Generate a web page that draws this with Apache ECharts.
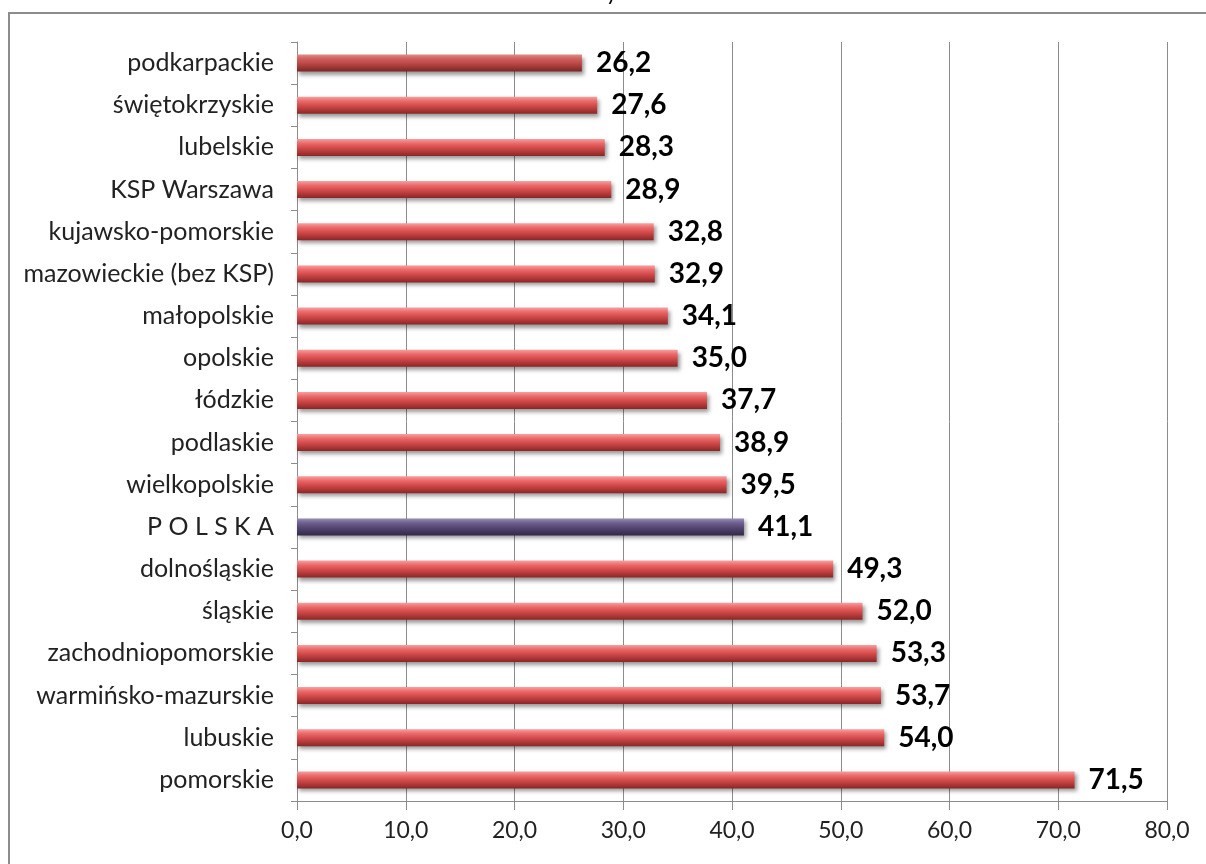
<!DOCTYPE html>
<html>
<head>
<meta charset="utf-8">
<script src="https://cdn.jsdelivr.net/npm/echarts@6/dist/echarts.min.js"></script>
<style>
html,body{margin:0;padding:0;background:#fff;}
#chart{width:1206px;height:864px;}
</style>
</head>
<body>
<div id="chart"></div>
<script>
// Data (top to bottom as shown)
const categories = ["podkarpackie","świętokrzyskie","lubelskie","KSP Warszawa","kujawsko-pomorskie","mazowieckie (bez KSP)","małopolskie","opolskie","łódzkie","podlaskie","wielkopolskie","P O L S K A","dolnośląskie","śląskie","zachodniopomorskie","warmińsko-mazurskie","lubuskie","pomorskie"];
const values = [26.2,27.6,28.3,28.9,32.8,32.9,34.1,35.0,37.7,38.9,39.5,41.1,49.3,52.0,53.3,53.7,54.0,71.5];
const highlightCategory = "P O L S K A";
const xTicks = [0,10,20,30,40,50,60,70,80];

const redGrad = new echarts.graphic.LinearGradient(0,0,0,1,[
  {offset:0,color:'#f7a0a0'},{offset:0.25,color:'#ec6a6a'},{offset:0.55,color:'#d04848'},{offset:1,color:'#8a2626'}]);
const darkRedGrad = new echarts.graphic.LinearGradient(0,0,0,1,[
  {offset:0,color:'#e08a88'},{offset:0.25,color:'#cf5f5d'},{offset:0.55,color:'#b84644'},{offset:1,color:'#7a2524'}]);
const purpleGrad = new echarts.graphic.LinearGradient(0,0,0,1,[
  {offset:0,color:'#9a8db5'},{offset:0.25,color:'#6f6192'},{offset:0.55,color:'#54466f'},{offset:1,color:'#33284a'}]);

const seriesData = values.map((v,i)=>({
  value:v,
  itemStyle:{color: categories[i]===highlightCategory ? purpleGrad : (i===0 ? darkRedGrad : redGrad)}
}));

const chart = echarts.init(document.getElementById('chart'));
chart.setOption({
  animation:false,
  backgroundColor:'#fff',
  graphic:[
    {type:'rect',shape:{x:9,y:13,width:1210,height:870},style:{fill:'none',stroke:'#8c8c8c',lineWidth:2},silent:true},
    {type:'text',left:606,top:-18,style:{text:'y',font:'22px Lato',fill:'#000'}}
  ],
  grid:{left:297,right:39,top:42,bottom:63,containLabel:false},
  xAxis:{
    type:'value',min:0,max:80,interval:10,
    axisLine:{show:true,lineStyle:{color:'#8c8c8c',width:1}},
    axisTick:{show:true,length:9,lineStyle:{color:'#8c8c8c'}},
    splitLine:{show:true,lineStyle:{color:'#8c8c8c',width:1}},
    axisLabel:{color:'#222',fontFamily:'Lato',fontSize:23,margin:18,
      formatter:v=>v.toFixed(1).replace('.',',')}
  },
  yAxis:{
    type:'category',data:categories,inverse:true,
    axisLine:{show:true,lineStyle:{color:'#8c8c8c',width:1}},
    axisTick:{show:true,length:6,lineStyle:{color:'#8c8c8c'}},
    axisLabel:{color:'#222',fontFamily:'Lato',fontSize:25,margin:23}
  },
  series:[{
    type:'bar',data:seriesData,barWidth:17,
    itemStyle:{shadowColor:'rgba(0,0,0,0.4)',shadowBlur:4,shadowOffsetX:2,shadowOffsetY:3},
    label:{show:true,position:'right',distance:14,color:'#000',fontFamily:'Lato',fontWeight:'bold',fontSize:28,
      formatter:p=>p.value.toFixed(1).replace('.',',')}
  }]
});
</script>
</body>
</html>
